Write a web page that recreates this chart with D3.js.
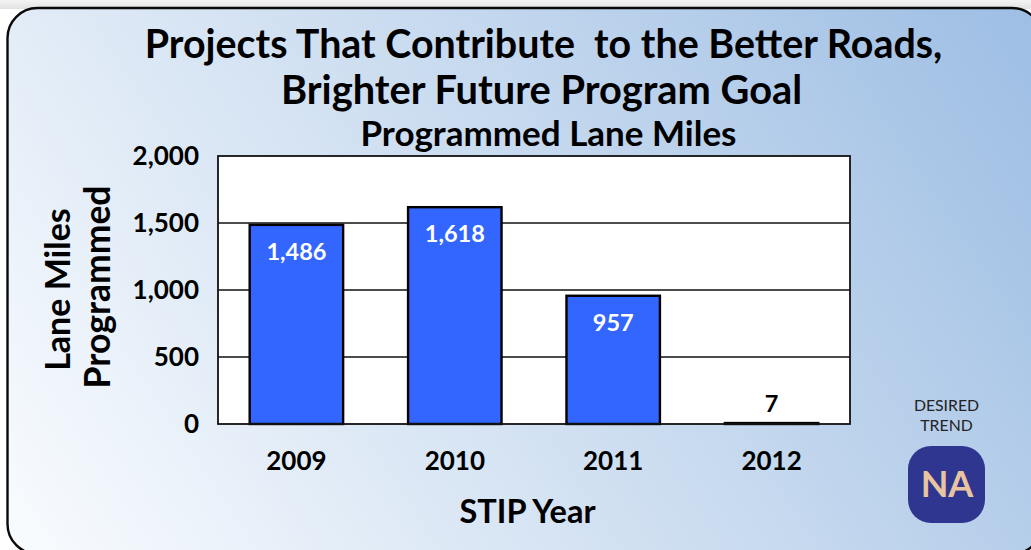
<!DOCTYPE html>
<html><head><meta charset="utf-8">
<script src="https://cdnjs.cloudflare.com/ajax/libs/d3/7.8.5/d3.min.js"></script>
<style>html,body{margin:0;padding:0;background:#fff}svg{display:block}text{font-family:"Lato","Noto Sans",sans-serif;fill:#000}</style>
</head><body><div id="c"></div>
<script>
const categories=["2009","2010","2011","2012"];
const values=[1486,1618,957,7];
const valueLabels=["1,486","1,618","957","7"];
const yTicks=[0,500,1000,1500,2000];
const titleLines=["Projects That Contribute  to the Better Roads,","Brighter Future Program Goal"];
const subtitle="Programmed Lane Miles";
const yTitleLines=["Lane Miles","Programmed"];
const xTitle="STIP Year";
const trendLines=["DESIRED","TREND"];
const trendBadge="NA";

const W=1031,H=550,m={l:218,r:850,t:156,b:424};
const svg=d3.select("#c").append("svg").attr("width",W).attr("height",H);
const defs=svg.append("defs");
const g=defs.append("linearGradient").attr("id","bg").attr("gradientUnits","userSpaceOnUse")
 .attr("x1",40).attr("y1",640).attr("x2",1000).attr("y2",10);
g.append("stop").attr("offset",0).attr("stop-color","#fbfdff");
g.append("stop").attr("offset",0.5).attr("stop-color","#cfdff1");
g.append("stop").attr("offset",1).attr("stop-color","#9fbfe4");
const topGrad=defs.append("linearGradient").attr("id","tp").attr("x1",0).attr("y1",0).attr("x2",0).attr("y2",1);
topGrad.append("stop").attr("offset",0).attr("stop-color","#f4f4f4");
topGrad.append("stop").attr("offset",1).attr("stop-color","#e2e2e2");
svg.append("rect").attr("width",W).attr("height",9).attr("fill","url(#tp)");
svg.append("rect").attr("x",7.5).attr("y",8).attr("width",1034.5).attr("height",546).attr("rx",30)
 .attr("fill","url(#bg)").attr("stroke","#0a0a0a").attr("stroke-width",2.4);

const x=d3.scaleBand().domain(categories).range([m.l,m.r]).paddingInner(0.41).paddingOuter(0.2);
const y=d3.scaleLinear().domain([0,2000]).range([m.b,m.t]);

svg.append("rect").attr("x",m.l).attr("y",m.t).attr("width",m.r-m.l).attr("height",m.b-m.t).attr("fill","#fff");
svg.append("g").selectAll("line").data(yTicks.slice(1,-1)).join("line")
 .attr("x1",m.l).attr("x2",m.r).attr("y1",d=>y(d)).attr("y2",d=>y(d)).attr("stroke","#111").attr("stroke-width",1.6);
svg.append("g").selectAll("rect").data(values).join("rect")
 .attr("x",(d,i)=>x(categories[i])).attr("width",x.bandwidth())
 .attr("y",d=>y(d)).attr("height",d=>y(0)-y(d))
 .attr("fill","#3366ff").attr("stroke","#000").attr("stroke-width",2.4);
svg.append("rect").attr("x",m.l).attr("y",m.t).attr("width",m.r-m.l).attr("height",m.b-m.t)
 .attr("fill","none").attr("stroke","#111").attr("stroke-width",1.8);

const yAxis=d3.axisLeft(y).tickValues(yTicks).tickSize(0).tickPadding(19).tickFormat(d3.format(","));
const ya=svg.append("g").attr("transform",`translate(${m.l},0)`).call(yAxis);
ya.select(".domain").remove();
ya.selectAll("text").attr("font-size",26).attr("font-weight",700).style("fill","#000");
const xAxis=d3.axisBottom(x).tickSize(0).tickPadding(28);
const xa=svg.append("g").attr("transform",`translate(0,${m.b})`).call(xAxis);
xa.select(".domain").remove();
xa.selectAll("text").attr("font-size",26).attr("font-weight",700).style("fill","#000");

svg.append("g").selectAll("text").data(values).join("text")
 .attr("x",(d,i)=>x(categories[i])+x.bandwidth()/2)
 .attr("y",(d)=> d<100 ? y(d)-11 : y(d)+35)
 .attr("text-anchor","middle").attr("font-size",23.5).attr("font-weight",700)
 .style("fill",d=>d<100?"#000":"#fff").text((d,i)=>valueLabels[i]);

const bold=(t,xx,yy,s)=>svg.append("text").attr("x",xx).attr("y",yy).attr("text-anchor","middle").attr("font-size",s).attr("font-weight",700).text(t);
svg.append("text").attr("x",543.5).attr("y",58).attr("text-anchor","middle").attr("font-size",39.4).attr("font-weight",700).style("white-space","pre").text(titleLines[0]);
bold(titleLines[1],541.5,104,39.8);
bold(subtitle,548.5,146,35);
bold(xTitle,527.5,523,32.5);
yTitleLines.forEach((t,i)=>{
 svg.append("text").attr("transform",`translate(${[70,110][i]},${[289.5,287][i]}) rotate(-90)`).attr("text-anchor","middle").attr("font-size",[34,35.5][i]).attr("font-weight",700).text(t);
});
trendLines.forEach((t,i)=>{
 svg.append("text").attr("x",946.5).attr("y",411+i*20).attr("text-anchor","middle").attr("font-size",15.8).attr("font-weight",400).style("fill","#222").text(t);
});
svg.append("rect").attr("x",908).attr("y",446).attr("width",77).attr("height",77).attr("rx",23).attr("fill","#2e3690");
svg.append("text").attr("x",947).attr("y",497).attr("text-anchor","middle").attr("font-size",36).attr("font-weight",700).style("fill","#e8c4a0").text(trendBadge);
</script></body></html>
